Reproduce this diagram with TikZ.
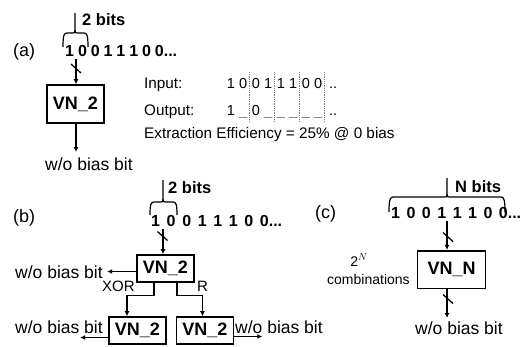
\documentclass[tikz,border=0pt]{standalone}
\usepackage{fontspec}
\setmainfont{Liberation Sans}
\usetikzlibrary{arrows.meta}
\newcommand\fsz[1]{\fontsize{#1}{#1}\selectfont}
\begin{document}
\begin{tikzpicture}[x=1pt,y=-1pt,
  box/.style={draw, line width=1.6pt, minimum width=57pt, minimum height=27pt, inner sep=0pt, font=\fsz{18}\bfseries},
  conn/.style={line width=1.3pt, -{Latex[length=5pt,width=5pt]}},
  brc/.style={line width=1.2pt, line join=round},
  slashs/.style={line width=1.3pt},
  txt/.style={anchor=base west, inner sep=0pt},
  bitsty/.style={txt, font=\fsz{16}\bfseries},
  wob/.style={txt, font=\fsz{17.5}},
  tbl/.style={txt, font=\fsz{15.3}},
  pair/.style={anchor=base, inner sep=0pt, font=\fsz{14.5}},
  sepl/.style={gray, densely dotted, line width=0.8pt},
  lblsty/.style={txt, font=\fsz{18}},
  nbits/.style={txt, font=\fsz{16.5}\bfseries}]
\useasboundingbox (0,0) rectangle (524,346);

% ---------------- (a)
\node[lblsty] (la) at (13,56) {(a)};
\node[nbits] (ba) at (82,25) {2 bits};
\draw[brc] (63,47) .. controls (63,35) and (64,33) .. (67,33) -- (72,33) .. controls (75,33) .. (75,30) -- (75,13);
\draw[brc] (88,47) .. controls (88,35) and (87,33) .. (84,33) -- (78,33) .. controls (75,33) .. (75,30);
\node[bitsty] (bitsa) at (65,56.7) {\makebox[112pt][s]{1 0 0 1 1 1 0 0...}};
\node[box, minimum height=38pt] (vna) at (75.5,104) {VN\_2};
\coordinate (ta) at (76,58.5);
\coordinate (sa) at (76,68.5);
\draw[conn] (ta) -- (ta |- vna.north);
\draw[slashs] ([shift={(-5,-4.5)}]sa) -- ([shift={(5,4.5)}]sa);
\node[wob] (wa) at (45,170.7) {w/o bias bit};
\coordinate (ea) at (76,152);
\draw[conn] (ea |- vna.south) -- (ea);

\node[tbl] (inl) at (144,88.5) {Input:};
\node[tbl] (outl) at (144,115) {Output:};
\node[tbl] (eff) at (144,138) {Extraction Efficiency = 25\% @ 0 bias};
\node[pair] (i1) at (237,88.5) {1 0};
\node[pair] (i2) at (262,88.5) {0 1};
\node[pair] (i3) at (287,88.5) {1 1};
\node[pair] (i4) at (312,88.5) {0 0};
\node[txt, font=\fsz{14.5}] (i5) at (329,88.5) {..};
\node[pair] (o1) at (237,115) {1 \textcolor{gray}{\_}};
\node[pair] (o2) at (262,115) {0 \textcolor{gray}{\_}};
\node[pair, text=gray] (o3) at (287,115) {\_ \_};
\node[pair, text=gray] (o4) at (312,115) {\_ \_};
\node[txt, font=\fsz{14.5}] (o5) at (329,115) {..};
\foreach \x in {249,274,299,324} \draw[sepl] (\x,72) -- (\x,122);

% ---------------- (b)
\node[lblsty] (lb) at (13,222) {(b)};
\node[nbits] (bb) at (168,193) {2 bits};
\draw[brc] (150,215) .. controls (150,204) and (151,202) .. (154,202) -- (160,202) .. controls (163,202) .. (163,199) -- (163,180);
\draw[brc] (177,215) .. controls (177,204) and (176,202) .. (173,202) -- (166,202) .. controls (163,202) .. (163,199);
\node[bitsty] (bitsb) at (151,226) {\makebox[131pt][s]{1 0 0 1 1 1 0 0...}};
\node[box] (vnb) at (165.5,268.5) {VN\_2};
\coordinate (tb) at (163,229);
\coordinate (sb) at (162.5,236);
\draw[conn] (tb) -- (tb |- vnb.north);
\draw[slashs] ([shift={(-5,-4.5)}]sb) -- ([shift={(5,4.5)}]sb);
\node[wob] (wb1) at (15,278) {w/o bias bit};
\draw[conn] ([yshift=-3pt]vnb.west) -- ++(-29,0);
\node[box] (vnl) at (137.5,330.5) {VN\_2};
\node[box] (vnr) at (205,330.5) {VN\_2};
\draw[conn] ([xshift=-11.5pt]vnb.south) -- ++(0,13) -| ([xshift=-10.5pt]vnl.north);
\draw[conn] ([xshift=11.5pt]vnb.south) -- ++(0,13) -| ([xshift=-2.5pt]vnr.north);
\node[txt, font=\fsz{15}] (xo) at (102,291) {XOR};
\node[txt, font=\fsz{15}] (rr) at (197,291) {R};
\node[wob] (wb2) at (15,333) {w/o bias bit};
\node[wob] (wb3) at (235,333) {w/o bias bit};
\draw[conn] ([yshift=-7pt]vnl.west) -- ++(-28,0);
\draw[conn] ([yshift=-6pt]vnr.east) -- ++(28,0);

% ---------------- (c)
\node[lblsty] (lc) at (315,218) {(c)};
\node[nbits] (nb) at (455,192) {N bits};
\draw[brc] (389,212) .. controls (389,200) and (390,197) .. (393,197) -- (444,197) .. controls (447,197) .. (447,194) -- (447,178);
\draw[brc] (505,212) .. controls (505,200) and (504,197) .. (501,197) -- (450,197) .. controls (447,197) .. (447,194);
\node[bitsty] (bitsc) at (391,218) {\makebox[130pt][s]{1 0 0 1 1 1 0 0...}};
\node[box, minimum width=68pt, minimum height=37.6pt] (vnc) at (451.5,269.5) {VN\_N};
\coordinate (tc) at (447,221);
\coordinate (sc) at (448,237);
\draw[conn] (tc) -- (tc |- vnc.north);
\draw[slashs] ([shift={(-5,-4.5)}]sc) -- ([shift={(5,4.5)}]sc);
\coordinate (ec) at (447,318);
\coordinate (sd) at (448,299);
\draw[conn] (ec |- vnc.south) -- (ec);
\draw[slashs] ([shift={(-5,-4.5)}]sd) -- ([shift={(5,4.5)}]sd);
\node[wob] (wc) at (415,334) {w/o bias bit};
\node[anchor=base, inner sep=0pt, font=\fsz{14}] (pn) at (359,266) {2$^{N}$};
\node[txt, font=\fsz{14}] (comb) at (327,284) {combinations};
\end{tikzpicture}
\end{document}
